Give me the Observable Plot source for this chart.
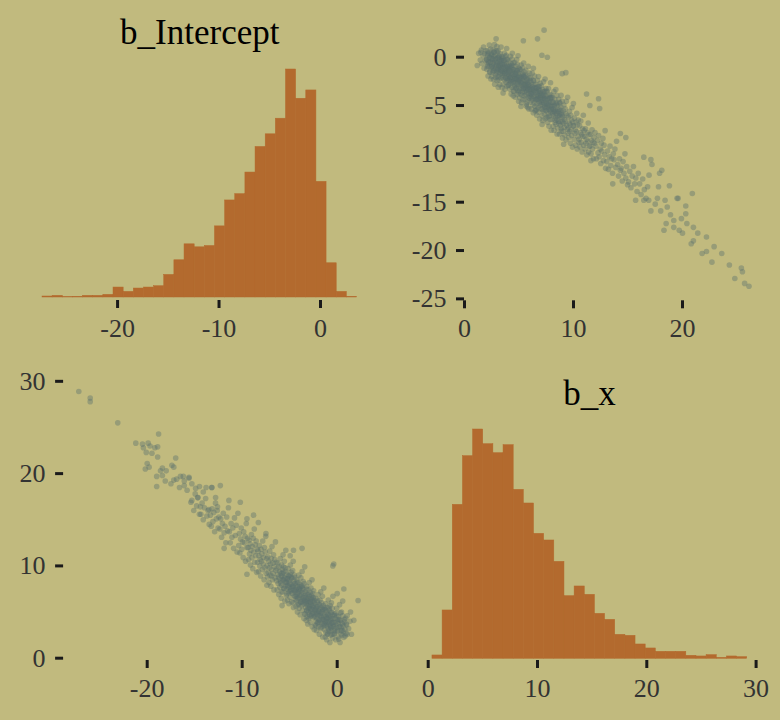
<!DOCTYPE html>
<html><head><meta charset="utf-8">
<script src="https://cdn.jsdelivr.net/npm/d3@7"></script>
<script src="https://cdn.jsdelivr.net/npm/@observablehq/plot@0.6"></script>
<style>
html,body{margin:0;padding:0;background:#C1BA7E;}
#chart{position:relative;width:780px;height:720px;background:#C1BA7E;overflow:hidden;}
</style></head><body><div id="chart"></div>
<script>
// ---------- data ----------
const paramNames = ["b_Intercept", "b_x"];

// histogram of b_Intercept (bins of width 1 starting at -27.4)
const interceptBinStart = -27.4, interceptBinWidth = 1.0;
const interceptCounts = [3,5,1,2,5,5,8,30,17,27,30,34,68,112,160,151,155,214,292,311,376,453,491,538,686,598,623,348,103,17,2];

// histogram of b_x (bins of width 0.929 starting at 0.39)
const bxBinStart = 0.39, bxBinWidth = 0.929;
const bxCounts = [10,145,462,608,688,644,617,641,507,466,375,355,291,188,217,192,135,117,72,69,43,31,21,21,21,9,7,11,3,7,5];

// tick labels
const interceptTicks = [-20, -10, 0];
const bxTicks = [0, 10, 20, 30];
const upperXTicks = [0, 10, 20];
const upperYTicks = [0, -5, -10, -15, -20, -25];
const lowerXTicks = [-20, -10, 0];
const lowerYTicks = [0, 10, 20, 30];

// upper-right panel draws: [b_x, b_Intercept]
const upperDraws = [
[1.17,-0.86],[1.3,0.4],[1.45,-0.3],
[1.55,0.75],[1.6,-0.65],[1.7,0.15],[1.75,1.05],[1.8,-1.15],[1.85,0.35],[1.9,-0.35],[1.95,0.65],
[2.02,-0.25],[2.05,-1.25],[2.08,0.65],[2.1,-0.75],[2.13,0.15],[2.16,-1.95],[2.19,-0.45],[2.22,0.45],[2.25,-0.95],[2.28,1.25],[2.31,-1.55],[2.34,-0.05],[2.37,-0.55],[2.4,0.85],[2.42,-2.25],[2.45,0.25],[2.47,-1.05],[2.49,-0.15],
[2.51,-2.0],[2.53,0.3],[2.55,-0.9],[2.57,-0.2],[2.59,-1.6],[2.61,0.8],[2.63,-1.1],[2.65,-0.6],[2.67,-2.3],[2.69,0.1],[2.71,-1.4],[2.73,0.5],[2.75,1.3],[2.77,-2.8],[2.79,-0.4],[2.81,-1.2],[2.83,0.2],[2.85,-1.8],[2.87,-0.1],[2.89,-0.9],[2.91,0.7],[2.93,-1.5],[2.95,-0.7],[2.97,1.1],[2.99,-2.4],
[3.01,-0.55],[3.03,-1.95],[3.05,-0.05],[3.07,-1.25],[3.09,0.65],[3.11,-1.55],[3.13,-0.85],[3.15,-2.35],[3.17,0.15],[3.19,-1.05],[3.21,-0.25],[3.23,-2.85],[3.25,-0.65],[3.27,-1.75],[3.29,0.35],[3.31,-1.35],[3.33,-0.95],[3.35,1.05],[3.37,-2.15],[3.39,-0.35],[3.41,-1.45],[3.43,0.05],[3.45,-3.15],[3.47,-0.75],[3.49,-1.65],[3.02,0.55],[3.12,-2.05],[3.22,-0.45],[3.32,-1.15],[3.42,-0.15],
[3.51,-1.9],[3.53,-0.1],[3.55,-2.8],[3.57,-1.0],[3.59,-0.4],[3.61,-1.5],[3.63,-2.3],[3.65,0.4],[3.67,-1.7],[3.69,-0.8],[3.71,-3.3],[3.73,-1.3],[3.75,0.1],[3.77,-2.1],[3.79,-1.1],[3.81,-2.6],[3.83,-0.6],[3.85,-1.4],[3.87,0.9],[3.89,-3.0],[3.91,-0.9],[3.93,-1.8],[3.95,-0.3],[3.97,-2.2],[3.99,-1.2],[3.54,-3.7],[3.64,-0.7],[3.74,-1.6],[3.84,0.2],[3.94,-2.4],
[4.01,-1.2],[4.03,-2.9],[4.05,-1.6],[4.07,-0.4],[4.09,-2.4],[4.11,-1.9],[4.13,-0.9],[4.15,-3.3],[4.17,-1.4],[4.19,-2.1],[4.21,0.1],[4.23,-2.7],[4.25,-1.7],[4.27,-3.8],[4.29,-0.7],[4.31,-2.3],[4.33,-1.1],[4.35,-3.1],[4.37,-1.5],[4.39,0.4],[4.41,-2.6],[4.43,-1.3],[4.45,-1.8],[4.47,-0.6],[4.49,-3.5],[4.06,-2.0],[4.16,-1.0],[4.26,-2.5],[4.36,-0.2],[4.46,-4.0],
[4.51,-2.45],[4.53,-1.25],[4.55,-3.55],[4.57,-1.95],[4.59,-0.55],[4.61,-2.95],[4.63,-2.15],[4.65,-4.15],[4.67,-1.55],[4.69,-2.65],[4.71,-0.95],[4.73,-3.25],[4.75,-1.75],[4.77,-2.35],[4.79,-0.25],[4.81,-3.85],[4.83,-1.35],[4.85,-2.85],[4.87,-2.05],[4.89,-3.45],[4.91,0.15],[4.93,-2.55],[4.95,-1.65],[4.97,-4.55],[4.99,-1.15],[4.56,-3.05],[4.66,-1.85],[4.76,-2.25],[4.86,-0.75],[4.96,-3.65],
[5.01,-1.9],[5.03,-3.5],[5.05,-2.4],[5.07,-4.2],[5.09,-1.3],[5.11,-2.9],[5.13,-2.1],[5.15,-3.8],[5.17,-2.6],[5.19,-0.8],[5.21,-3.2],[5.23,-4.7],[5.25,-1.7],[5.27,-2.7],[5.29,-2.2],[5.31,-3.6],[5.33,-1.1],[5.35,-3.0],[5.37,-4.4],[5.39,-2.0],[5.41,-3.3],[5.43,-0.6],[5.45,-2.8],[5.47,-1.5],[5.49,-4.0],[5.04,-2.3],[5.18,-5.1],[5.36,-1.8],
[5.51,-3.55],[5.53,-2.05],[5.55,-4.35],[5.57,-2.75],[5.59,-3.15],[5.61,-1.35],[5.63,-3.85],[5.65,-2.45],[5.67,-5.05],[5.69,-2.95],[5.71,-3.45],[5.73,-1.85],[5.75,-4.65],[5.77,-2.25],[5.79,-3.25],[5.81,-2.65],[5.83,-4.15],[5.85,-0.95],[5.87,-3.75],[5.89,-3.05],[5.91,-5.35],[5.93,-2.15],[5.95,-3.35],[5.97,-1.65],[5.99,-4.05],[5.54,-2.55],[5.68,-4.85],[5.86,-2.85],
[6.01,-2.95],[6.03,-4.65],[6.05,-3.55],[6.07,-2.15],[6.09,-4.15],[6.11,-3.25],[6.13,-5.35],[6.15,-2.65],[6.17,-3.85],[6.19,-4.45],[6.21,-1.65],[6.23,-3.65],[6.25,-3.05],[6.27,-4.95],[6.29,-3.35],[6.31,-5.75],[6.33,-2.45],[6.35,-4.05],[6.37,-2.85],[6.39,-4.75],[6.41,-3.45],[6.43,-1.95],[6.45,-4.25],[6.47,-5.55],[6.49,-3.15],[6.12,-3.75],[6.32,-1.15],
[6.51,-4.4],[6.53,-2.8],[6.55,-5.5],[6.57,-3.5],[6.59,-4.1],[6.61,-3.2],[6.63,-6.0],[6.65,-3.8],[6.67,-4.8],[6.69,-2.4],[6.71,-4.3],[6.73,-3.6],[6.75,-5.2],[6.77,-4.0],[6.79,-2.0],[6.81,-5.7],[6.83,-3.4],[6.85,-4.6],[6.87,-3.0],[6.89,-6.4],[6.91,-3.7],[6.93,-4.2],[6.95,-2.7],[6.97,-5.0],[6.99,-3.9],[6.62,-5.4],[6.82,-3.3],
[7.01,-4.15],[7.03,-5.35],[7.05,-2.95],[7.07,-4.65],[7.09,-3.75],[7.11,-6.05],[7.13,-4.45],[7.15,-3.35],[7.17,-4.95],[7.19,-6.55],[7.21,-3.95],[7.23,-5.55],[7.25,-2.55],[7.27,-4.75],[7.29,-4.25],[7.31,-5.85],[7.33,-3.55],[7.35,-5.15],[7.37,-4.35],[7.39,-2.25],[7.41,-6.35],[7.43,-4.05],[7.45,-4.85],[7.47,-3.25],[7.49,-5.25],[7.12,-6.95],[7.32,-3.85],
[7.51,-5.55],[7.53,-4.05],[7.55,-6.25],[7.57,-4.75],[7.59,-3.55],[7.61,-5.15],[7.63,-6.75],[7.65,-4.35],[7.67,-5.85],[7.69,-4.95],[7.71,-3.25],[7.73,-5.35],[7.75,-7.15],[7.77,-4.55],[7.79,-6.05],[7.81,-3.85],[7.83,-5.05],[7.85,-4.15],[7.87,-6.45],[7.89,-2.65],[7.91,-5.65],[7.93,-4.65],[7.95,-7.55],[7.97,-3.95],[7.99,-5.25],
[8.01,-5.05],[8.04,-6.45],[8.06,-4.15],[8.08,-5.75],[8.1,-4.65],[8.13,-7.15],[8.15,-5.35],[8.17,-6.05],[8.2,-3.55],[8.22,-7.55],[8.24,-4.95],[8.26,-5.65],[8.29,-4.35],[8.31,-6.75],[8.33,-5.45],[8.36,-6.25],[8.38,-3.35],[8.4,-6.95],[8.42,-4.85],[8.45,-5.85],[8.47,-3.95],[8.49,-7.95],
[8.51,-6.45],[8.54,-4.95],[8.56,-7.35],[8.59,-5.65],[8.61,-6.05],[8.64,-4.35],[8.66,-6.85],[8.69,-5.35],[8.71,-7.95],[8.74,-5.85],[8.76,-4.75],[8.79,-6.65],[8.81,-7.05],[8.84,-5.15],[8.86,-3.95],[8.89,-7.65],[8.91,-5.75],[8.94,-6.25],[8.96,-4.55],[8.99,-8.35],
[9.01,-6.15],[9.04,-7.65],[9.07,-5.55],[9.09,-6.85],[9.12,-4.95],[9.15,-7.25],[9.18,-6.45],[9.2,-8.05],[9.23,-5.35],[9.26,-6.65],[9.29,-5.85],[9.32,-8.55],[9.34,-4.55],[9.37,-7.05],[9.4,-6.05],[9.43,-7.45],[9.46,-4.15],[9.49,-7.85],
[9.51,-7.3],[9.54,-6.2],[9.57,-8.3],[9.6,-6.8],[9.63,-5.6],[9.66,-7.7],[9.69,-7.0],[9.72,-8.9],[9.75,-6.0],[9.78,-7.5],[9.81,-6.5],[9.84,-8.1],[9.87,-5.2],[9.9,-9.3],[9.93,-6.7],[9.96,-7.1],[9.99,-4.8],
[10.02,-7.1],[10.06,-8.5],[10.09,-6.3],[10.13,-7.9],[10.16,-7.5],[10.2,-9.1],[10.23,-6.7],[10.27,-7.7],[10.3,-5.8],[10.34,-9.5],[10.37,-7.0],[10.41,-8.2],[10.44,-6.5],[10.48,-8.8],
[10.52,-8.5],[10.56,-7.1],[10.6,-9.3],[10.64,-7.8],[10.67,-6.6],[10.71,-8.8],[10.75,-8.0],[10.79,-9.8],[10.83,-7.4],[10.87,-8.2],[10.9,-6.0],[10.94,-9.1],[10.98,-7.6],
[11.02,-8.2],[11.06,-9.5],[11.1,-7.4],[11.14,-8.9],[11.18,-8.5],[11.22,-10.1],[11.27,-7.8],[11.31,-8.7],[11.35,-6.8],[11.39,-9.8],[11.43,-8.0],[11.47,-9.2],
[11.52,-9.2],[11.56,-8.0],[11.61,-10.0],[11.65,-8.6],[11.7,-7.5],[11.74,-9.5],[11.79,-8.8],[11.83,-10.5],[11.88,-8.3],[11.92,-8.9],[11.97,-7.8],
[12.05,-9.2],[12.1,-10.5],[12.2,-8.6],[12.25,-9.9],[12.3,-8.1],[12.35,-10.3],[12.45,-9.5],[12.5,-11.0],[12.55,-8.9],[12.6,-9.7],[12.7,-8.4],[12.75,-10.7],[12.8,-9.1],[12.85,-10.1],[12.9,-7.6],[12.95,-11.5],
[13.05,-10.8],[13.12,-9.7],[13.2,-11.6],[13.28,-10.3],[13.35,-9.2],[13.42,-11.2],[13.5,-10.5],[13.58,-12.0],[13.65,-10.0],[13.72,-10.6],[13.8,-9.5],[13.88,-11.4],[13.95,-8.7],
[14.05,-11.1],[14.13,-12.3],[14.22,-10.5],[14.3,-11.7],[14.38,-11.5],[14.47,-12.8],[14.55,-10.8],[14.63,-12.0],[14.72,-10.0],[14.8,-12.5],[14.88,-11.3],[14.96,-13.2],
[15.05,-12.9],[15.16,-11.8],[15.27,-13.5],[15.38,-12.3],[15.5,-11.3],[15.61,-13.1],[15.72,-12.5],[15.83,-13.9],[15.94,-12.0],
[16.07,-13.1],[16.2,-14.2],[16.35,-12.6],[16.5,-13.7],[16.65,-14.6],[16.8,-13.4],[16.93,-12.2],
[16.45,-10.34],[17.1,-10.6],[17.2,-11.1],[18.1,-11.7],[17.9,-12.0],[17.8,-13.4],[18.8,-13.3],[19.6,-14.6],[20.9,-14.1],[20.3,-15.4],[21.0,-17.6],[21.4,-18.2],[22.2,-18.6],[21.0,-19.0],[20.8,-19.3],[22.9,-19.6],[21.8,-20.3],[22.2,-20.1],[23.6,-20.3],[22.7,-21.2],[24.3,-21.5],[25.4,-21.8],[25.5,-22.2],[24.8,-22.9],[25.7,-23.4],[26.1,-23.7],
[18.6,-15.5],[18.0,-15.9],[18.9,-16.3],[18.5,-17.2],[19.2,-16.9],[19.7,-17.9],[20.0,-18.2],[18.3,-17.9],[20.4,-17.2],[19.9,-16.7],[20.3,-16.2],[19.2,-17.6],[17.5,-15.2],[17.1,-15.9],[16.9,-14.8],[17.7,-14.6],[18.4,-14.8],[16.45,-14.8],[19.5,-14.6],
[7.3,2.8],[6.7,1.9],[5.4,1.7],[2.9,1.9],[9.3,-1.6],[8.96,-1.7],[7.6,0.0],[7.1,0.2],[11.2,-3.8],[12.3,-4.3],[12.4,-5.3],[11.5,-5.0],[14.3,-7.9],[14.8,-8.3],[9.1,-9.0],[11.6,-10.7],[13.6,-13.1],[15.7,-14.8],[3.1,-3.1],[5.8,-5.2],[1.5,0.5],
[2.03,-0.22],[2.09,-0.95],[2.15,0.32],[2.21,-0.61],[2.27,-0.04],[2.33,-1.47],[2.39,-0.5],[2.45,0.38],[2.51,-0.96],[2.57,-0.29],[2.63,-1.43],[2.69,0.54],[2.75,-0.8],[2.81,-0.23],[2.87,-2.07],[2.93,-0.61],[2.99,-1.34],
[3.05,-0.08],[3.11,-1.21],[3.17,0.05],[3.23,-0.89],[3.29,-1.6],[3.35,-0.33],[3.41,-1.27],[3.47,-0.7],[3.53,-2.13],[3.59,-1.17],[3.65,-0.32],[3.71,-1.67],[3.77,-1.02],[3.83,-2.17],[3.89,-0.21],[3.95,-1.56],
[4.01,-1.0],[4.07,-2.86],[4.13,-1.42],[4.19,-2.17],[4.25,-0.92],[4.31,-2.08],[4.37,-0.83],[4.43,-1.79],[4.49,-2.54],[4.55,-1.3],[4.61,-2.25],[4.67,-1.7],[4.73,-3.16],[4.79,-2.21],[4.85,-1.37],[4.91,-2.72],[4.97,-2.07],
[5.03,-3.23],[5.09,-1.28],[5.15,-2.64],[5.21,-2.09],[5.27,-3.94],[5.33,-2.5],[5.39,-3.25],[5.45,-2.01],[5.51,-3.16],[5.57,-1.91],[5.63,-2.87],[5.69,-3.62],[5.75,-2.38],[5.81,-3.33],[5.87,-2.78],[5.93,-4.24],[5.99,-3.29],
[6.05,-2.45],[6.11,-3.81],[6.17,-3.17],[6.23,-4.33],[6.29,-2.39],[6.35,-3.75],[6.41,-3.21],[6.47,-5.07],[6.53,-3.63],[6.59,-4.38],[6.65,-3.14],[6.71,-4.29],[6.77,-3.04],[6.83,-4.0],[6.89,-4.75],[6.95,-3.5],
[7.01,-4.46],[7.07,-3.91],[7.13,-5.37],[7.19,-4.42],[7.25,-3.57],[7.31,-4.93],[7.37,-4.28],[7.43,-5.44],[7.49,-3.49],[7.55,-4.85],[7.61,-4.31],[7.67,-6.17],[7.73,-4.73],[7.79,-5.49],[7.85,-4.25],[7.91,-5.41],[7.97,-4.17],
[8.03,-5.13],[8.09,-5.89],[8.15,-4.65],[8.21,-5.61],[8.27,-5.07],[8.33,-6.53],[8.39,-5.59],[8.45,-4.75],[8.51,-6.11],[8.57,-5.47],[8.63,-6.63],[8.69,-4.69],[8.75,-6.05],[8.81,-5.51],[8.87,-7.37],[8.93,-5.93],[8.99,-6.69]
];

// lower-left panel draws: [b_Intercept, b_x]
const lowerDraws = [
[0.65,2.9],[0.75,4.2],[0.85,2.4],[0.95,3.7],[1.05,4.6],[1.2,3.2],[1.35,4.0],[1.5,2.6],
[-0.38,3.9],[-0.34,2.6],[-0.3,4.8],[-0.25,3.2],[-0.2,4.3],[-0.15,2.0],[-0.1,3.6],[-0.05,5.4],[0.0,2.9],[0.05,4.0],[0.1,2.3],[0.15,4.5],[0.2,3.4],[0.25,5.8],[0.3,1.7],[0.35,4.1],[0.4,3.0],[0.45,5.0],[0.5,2.5],[0.55,3.7],[0.58,6.2],[-0.28,2.7],[0.08,4.2],[0.42,3.3],
[-1.38,4.2],[-1.36,3.1],[-1.33,5.3],[-1.31,3.6],[-1.29,4.7],[-1.26,2.3],[-1.24,4.0],[-1.22,5.9],[-1.19,2.8],[-1.17,4.5],[-1.15,3.8],[-1.12,5.0],[-1.1,2.0],[-1.08,4.3],[-1.05,3.4],[-1.03,5.5],[-1.01,2.6],[-0.98,4.8],[-0.96,3.9],[-0.94,6.3],[-0.91,3.2],[-0.89,4.4],[-0.87,2.9],[-0.84,5.2],[-0.82,3.7],[-0.8,4.6],[-0.77,1.7],[-0.75,5.7],[-0.73,3.5],[-0.7,4.1],[-0.68,2.5],[-0.66,4.9],[-0.63,3.3],[-0.61,6.0],[-0.59,3.0],[-0.56,4.3],[-0.54,3.8],[-0.52,5.4],[-0.49,2.2],[-0.47,4.7],[-0.45,6.7],[-0.42,3.6],
[-2.38,4.5],[-2.36,5.9],[-2.33,3.6],[-2.31,5.2],[-2.28,4.8],[-2.26,6.5],[-2.23,4.0],[-2.21,5.4],[-2.18,3.0],[-2.16,5.0],[-2.13,4.3],[-2.11,6.1],[-2.08,3.8],[-2.06,5.6],[-2.03,4.7],[-2.01,6.9],[-1.98,3.4],[-1.96,5.1],[-1.93,4.1],[-1.91,5.8],[-1.88,2.6],[-1.86,5.3],[-1.83,4.6],[-1.81,6.3],[-1.78,3.9],[-1.76,4.9],[-1.73,7.2],[-1.71,3.2],[-1.68,5.5],[-1.66,4.4],[-1.63,6.0],[-1.61,3.7],[-1.58,4.8],[-1.56,6.7],[-1.53,2.3],[-1.51,5.2],[-1.48,4.2],[-1.46,5.7],[-1.43,3.5],[-1.41,7.6],
[-3.38,6.2],[-3.36,4.8],[-3.34,7.2],[-3.32,5.5],[-3.29,6.6],[-3.27,4.1],[-3.25,5.9],[-3.23,7.8],[-3.21,5.2],[-3.19,6.3],[-3.17,4.5],[-3.15,6.9],[-3.12,5.7],[-3.1,3.7],[-3.08,6.5],[-3.06,7.4],[-3.04,5.0],[-3.02,6.0],[-3.0,4.3],[-2.97,6.7],[-2.95,5.4],[-2.93,8.2],[-2.91,4.7],[-2.89,6.1],[-2.87,5.6],[-2.85,7.1],[-2.82,3.9],[-2.8,6.4],[-2.78,5.1],[-2.76,7.6],[-2.74,5.8],[-2.72,4.6],[-2.7,6.8],[-2.67,5.3],[-2.65,8.5],[-2.63,3.4],[-2.61,6.2],[-2.59,4.9],[-2.57,7.0],[-2.55,5.7],[-2.52,6.6],[-2.5,4.4],[-2.48,7.3],[-2.46,5.5],[-2.44,6.0],[-2.42,3.1],
[-4.38,6.7],[-4.35,7.9],[-4.33,5.6],[-4.3,7.4],[-4.27,6.2],[-4.25,8.5],[-4.22,6.9],[-4.19,5.0],[-4.17,7.7],[-4.14,6.5],[-4.11,8.2],[-4.09,5.9],[-4.06,7.2],[-4.03,9.0],[-4.01,5.4],[-3.98,7.5],[-3.95,6.8],[-3.93,8.0],[-3.9,4.7],[-3.87,7.3],[-3.85,6.1],[-3.82,8.7],[-3.79,6.4],[-3.77,7.8],[-3.74,5.7],[-3.71,7.1],[-3.69,9.4],[-3.66,5.2],[-3.63,7.6],[-3.61,6.6],[-3.58,8.3],[-3.55,6.0],[-3.53,7.0],[-3.5,4.3],[-3.47,8.1],[-3.45,6.3],[-3.42,9.9],
[-5.38,8.2],[-5.35,6.8],[-5.32,9.1],[-5.29,7.5],[-5.26,8.6],[-5.23,6.3],[-5.2,7.9],[-5.17,9.7],[-5.14,7.1],[-5.11,8.3],[-5.08,5.9],[-5.05,8.9],[-5.02,7.7],[-4.99,8.5],[-4.96,6.6],[-4.93,10.1],[-4.9,7.3],[-4.87,8.0],[-4.84,9.3],[-4.81,6.1],[-4.78,8.7],[-4.75,7.6],[-4.72,7.0],[-4.69,9.5],[-4.66,7.8],[-4.63,10.5],[-4.6,5.5],[-4.57,8.4],[-4.54,7.4],[-4.51,9.0],[-4.48,6.7],[-4.45,8.1],[-4.42,7.2],[-4.95,11.1],
[-6.38,8.4],[-6.35,9.7],[-6.32,7.4],[-6.28,9.1],[-6.25,10.3],[-6.22,8.1],[-6.19,8.8],[-6.15,6.9],[-6.12,9.9],[-6.09,8.6],[-6.06,9.4],[-6.03,7.7],[-5.99,10.8],[-5.96,8.3],[-5.93,9.2],[-5.9,6.5],[-5.86,10.1],[-5.83,7.9],[-5.8,8.9],[-5.77,9.6],[-5.73,7.2],[-5.7,11.2],[-5.67,8.5],[-5.64,9.3],[-5.6,7.6],[-5.57,10.5],[-5.54,8.7],[-5.51,6.2],[-5.47,9.8],[-5.44,8.2],[-5.41,11.7],
[-7.38,10.0],[-7.34,8.8],[-7.3,11.0],[-7.26,9.3],[-7.22,10.5],[-7.18,8.2],[-7.14,9.8],[-7.1,11.6],[-7.06,9.0],[-7.02,10.2],[-6.98,7.8],[-6.94,10.8],[-6.9,9.6],[-6.86,12.1],[-6.82,8.5],[-6.78,10.3],[-6.74,9.2],[-6.7,11.2],[-6.66,7.4],[-6.62,9.9],[-6.58,10.7],[-6.54,8.7],[-6.5,12.6],[-6.46,9.5],[-6.42,10.4],[-6.88,8.9],
[-8.38,10.4],[-8.33,11.6],[-8.29,9.4],[-8.24,11.1],[-8.2,12.2],[-8.15,10.0],[-8.11,10.7],[-8.06,8.9],[-8.02,11.8],[-7.97,10.5],[-7.93,11.3],[-7.88,9.6],[-7.84,12.7],[-7.79,10.2],[-7.75,10.9],[-7.7,8.5],[-7.66,12.0],[-7.61,9.8],[-7.57,11.5],[-7.52,13.2],[-7.48,9.2],[-7.43,10.8],
[-9.38,12.0],[-9.33,10.7],[-9.28,12.8],[-9.23,11.3],[-9.18,12.4],[-9.13,10.1],[-9.08,11.7],[-9.03,13.4],[-8.98,10.9],[-8.93,12.1],[-8.88,9.7],[-8.83,13.0],[-8.78,11.5],[-8.73,14.0],[-8.68,10.4],[-8.63,12.3],[-8.58,11.1],[-8.53,12.7],[-8.48,9.3],[-8.43,11.8],
[-10.37,12.2],[-10.3,13.5],[-10.24,11.4],[-10.17,12.9],[-10.1,14.1],[-10.04,11.8],[-9.97,12.6],[-9.9,10.9],[-9.84,13.7],[-9.77,12.5],[-9.7,13.2],[-9.64,10.5],[-9.57,14.6],[-9.5,12.0],[-9.44,13.0],
[-11.35,13.7],[-11.26,12.5],[-11.17,14.6],[-11.08,13.1],[-10.99,14.1],[-10.9,11.9],[-10.81,15.2],[-10.72,13.3],[-10.63,14.4],[-10.54,11.5],[-10.45,15.7],
[-12.35,14.0],[-12.26,15.1],[-12.17,13.1],[-12.08,14.6],[-11.99,15.7],[-11.9,13.6],[-11.81,14.3],[-11.72,12.5],[-11.63,15.3],[-11.54,13.8],[-11.45,16.3],
[-13.35,15.5],[-13.26,14.3],[-13.17,16.2],[-13.08,14.8],[-12.99,15.8],[-12.9,13.7],[-12.81,16.8],[-12.72,15.1],[-12.63,16.0],[-12.54,14.1],[-12.45,15.3],
[-14.35,15.6],[-14.22,16.8],[-14.1,15.0],[-13.97,16.3],[-13.85,17.3],[-13.72,15.4],[-13.6,16.0],[-13.47,14.5],
[-15.3,17.1],[-15.1,16.0],[-14.95,17.8],[-14.8,16.5],[-14.65,17.4],[-14.5,15.6],
[-27.2,28.9],[-26.0,28.2],[-26.0,27.8],[-23.1,25.5],[-18.8,24.3],[-21.2,23.3],[-20.5,23.2],[-19.9,23.3],[-19.7,23.0],[-20.4,22.8],[-18.9,22.9],[-19.2,22.8],[-20.1,22.3],[-19.5,22.2],[-18.9,21.8],[-20.0,21.1],[-19.8,20.7],[-20.2,20.5],[-17.0,21.7],[-18.4,20.6],[-18.6,20.3],[-18.0,20.3],[-17.4,20.9],[-17.2,20.7],[-19.0,19.7],[-18.4,19.8],[-18.1,19.2],[-17.5,18.9],[-17.2,19.3],[-16.9,19.4],[-19.0,18.6],[-16.6,18.5],[-16.2,19.7],[-15.6,19.6],[-16.1,18.7],[-15.8,18.2],[-13.2,18.5],
[-16.5,19.7],[-16.1,19.2],[-15.6,19.5],[-15.3,18.9],[-14.9,18.4],[-14.5,18.6],[-14.1,18.0],[-13.8,18.5],[-13.2,18.5],[-12.8,17.4],[-14.7,17.4],[-15.4,16.9],[-14.4,16.4],[-13.5,16.1],[-12.6,16.4],
[-0.36,10.2],[-0.46,10.0],[2.2,6.25],[-12.3,18.7],[-10.2,16.9],[-11.4,17.1],[-3.7,11.9],[-4.6,11.7],[-7.5,13.5],[-8.8,15.5],[-9.5,15.1],[-8.3,14.7],[-11.9,11.9],[-9.5,9.1],[-7.4,7.9],[-5.8,5.7],[0.7,7.5],[0.0,7.0],[1.4,5.0],[1.75,4.1],[1.05,2.6],
[1.0,3.6],[0.94,2.71],[0.88,4.32],[0.82,3.14],[0.76,3.95],[0.7,2.26],[0.64,3.47],[0.58,4.58],[0.52,3.0],[0.46,3.81],[0.4,2.62],[0.34,4.93],[0.28,3.44],[0.22,4.16],[0.16,2.07],[0.1,3.78],[0.04,2.99],
[-0.02,4.6],[-0.08,3.33],[-0.14,4.86],[-0.2,3.88],[-0.26,3.0],[-0.32,4.63],[-0.38,3.45],[-0.44,4.28],[-0.5,2.6],[-0.56,3.84],[-0.62,4.97],[-0.68,3.41],[-0.74,4.24],[-0.8,3.08],[-0.86,5.42],[-0.92,3.95],[-0.98,4.69],
[-1.04,2.62],[-1.1,4.36],[-1.16,3.6],[-1.22,5.23],[-1.28,3.97],[-1.34,5.5],[-1.4,4.54],[-1.46,3.68],[-1.52,5.32],[-1.58,4.16],[-1.64,5.01],[-1.7,3.36],[-1.76,4.61],[-1.82,5.76],[-1.88,4.2],[-1.94,5.05],
[-2.0,3.9],[-2.06,6.26],[-2.12,4.82],[-2.18,5.58],[-2.24,3.54],[-2.3,5.3],[-2.36,4.56],[-2.42,6.22],[-2.48,4.98],[-2.54,6.54],[-2.6,5.6],[-2.66,4.76],[-2.72,6.42],[-2.78,5.28],[-2.84,6.14],[-2.9,4.5],[-2.96,5.76],
[-3.02,6.92],[-3.08,5.39],[-3.14,6.25],[-3.2,5.12],[-3.26,7.49],[-3.32,6.05],[-3.38,6.82],[-3.44,4.78],[-3.5,6.55],[-3.56,5.82],[-3.62,7.48],[-3.68,6.25],[-3.74,7.81],[-3.8,6.88],[-3.86,6.05],[-3.92,7.71],[-3.98,6.58],
[-4.04,7.44],[-4.1,5.8],[-4.16,7.06],[-4.22,8.22],[-4.28,6.68],[-4.34,7.54],[-4.4,6.4],[-4.46,8.76],[-4.52,7.32],[-4.58,8.08],[-4.64,6.04],[-4.7,7.8],[-4.76,7.06],[-4.82,8.72],[-4.88,7.48],[-4.94,9.04],
[-5.0,8.1],[-5.06,7.25],[-5.12,8.9],[-5.18,7.76],[-5.24,8.61],[-5.3,6.97],[-5.36,8.22],[-5.42,9.38],[-5.48,7.83],[-5.54,8.69],[-5.6,7.54],[-5.66,9.9],[-5.72,8.45],[-5.78,9.2],[-5.84,7.16],[-5.9,8.91],[-5.96,8.16]
];

// ---------- style ----------
const barFill = "#B36A2E";
const pointFill = "#5E736E";
const tickColor = "#1a1a1a";
const labelColor = "#333333";
const serif = "'Liberation Serif', 'Times New Roman', serif";

function makeBins(start, width, counts) {
  return counts.map((c, i) => ({x1: start + i * width, x2: start + (i + 1) * width, count: c}));
}
const interceptBins = makeBins(interceptBinStart, interceptBinWidth, interceptCounts);
const bxBins = makeBins(bxBinStart, bxBinWidth, bxCounts);

const axisStyle = {tickSize: 8, tickPadding: 10, stroke: tickColor, strokeWidth: 3, fill: labelColor, tickFormat: d => String(d), label: null};
const baseStyle = {background: "transparent", fontFamily: serif, fontSize: "26px", overflow: "visible"};
const dotStyle = {r: 2.8, fill: pointFill, fillOpacity: 0.42, stroke: null};

const chart = document.getElementById("chart");
function place(el, left, top) {
  el.style.position = "absolute";
  el.style.left = left + "px";
  el.style.top = top + "px";
  chart.appendChild(el);
}

// top-left: histogram of b_Intercept
place(Plot.plot({
  width: 390, height: 350,
  marginLeft: 42, marginRight: 33.5, marginTop: 69, marginBottom: 50,
  style: baseStyle,
  x: {domain: [-27.4, 3.6], range: [42, 356.5], label: null},
  y: {domain: [0, 686], range: [297, 69], axis: null},
  marks: [
    Plot.rectY(interceptBins, {x1: "x1", x2: "x2", y: "count", fill: barFill, stroke: barFill, strokeWidth: 0.5}),
    Plot.axisX({ticks: interceptTicks, anchor: "bottom", ...axisStyle}),
    Plot.text([paramNames[0]], {text: d => d, frameAnchor: "top", dy: -37, fontSize: 35, fill: "#000", lineAnchor: "middle"})
  ]
}), 0, 0);

// top-right: b_x vs b_Intercept
place(Plot.plot({
  width: 390, height: 350,
  marginLeft: 74, marginRight: 21.7, marginTop: 21.9, marginBottom: 49.7,
  style: baseStyle,
  x: {domain: [0, 27], range: [74, 368.3], label: null},
  y: {domain: [-25.2, 3.6], range: [300.3, 21.9], label: null},
  marks: [
    Plot.dot(upperDraws, {x: d => d[0], y: d => d[1], ...dotStyle}),
    Plot.axisX({ticks: upperXTicks, anchor: "bottom", ...axisStyle}),
    Plot.axisY({ticks: upperYTicks, anchor: "left", ...axisStyle})
  ]
}), 390, 0);

// bottom-left: b_Intercept vs b_x
place(Plot.plot({
  width: 390, height: 370,
  marginLeft: 63.1, marginRight: 24.8, marginTop: 21.6, marginBottom: 60,
  style: baseStyle,
  x: {domain: [-28.8, 3], range: [63.1, 365.2], label: null},
  y: {domain: [-0.25, 31], range: [310, 21.6], label: null},
  marks: [
    Plot.dot(lowerDraws, {x: d => d[0], y: d => d[1], ...dotStyle}),
    Plot.axisX({ticks: lowerXTicks, anchor: "bottom", ...axisStyle}),
    Plot.axisY({ticks: lowerYTicks, anchor: "left", ...axisStyle})
  ]
}), 0, 350);

// bottom-right: histogram of b_x
place(Plot.plot({
  width: 390, height: 370,
  marginLeft: 37.7, marginRight: 29.7, marginTop: 79, marginBottom: 60,
  style: baseStyle,
  x: {domain: [0, 30], range: [37.7, 365.6], label: null},
  y: {domain: [0, 688], range: [308.3, 79], axis: null},
  marks: [
    Plot.rectY(bxBins, {x1: "x1", x2: "x2", y: "count", fill: barFill, stroke: barFill, strokeWidth: 0.5}),
    Plot.axisX({ticks: bxTicks, anchor: "bottom", ...axisStyle}),
    Plot.text([paramNames[1]], {text: d => d, frameAnchor: "top", dy: -36, fontSize: 35, fill: "#000", lineAnchor: "middle"})
  ]
}), 390, 350);
</script>
</body></html>
